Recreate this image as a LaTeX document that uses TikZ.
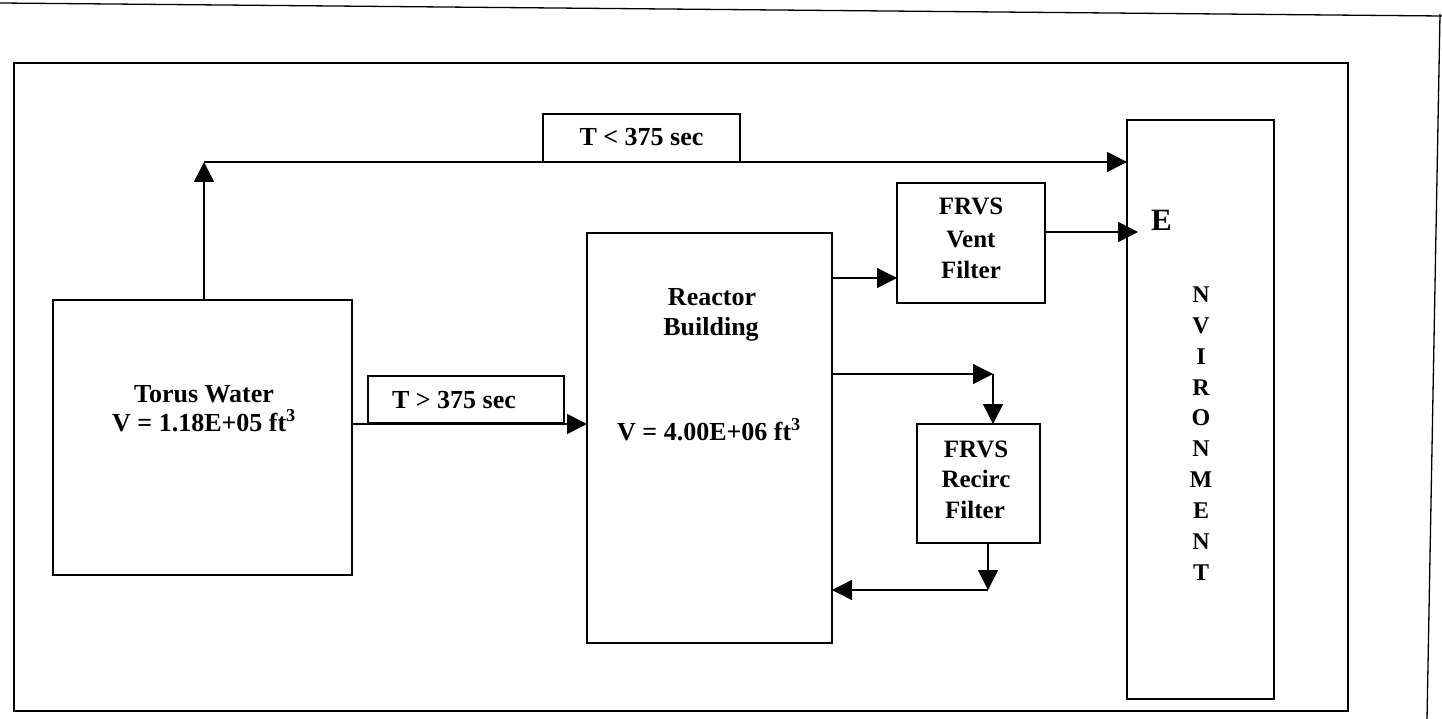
\documentclass[tikz,border=0pt]{standalone}
\usepackage{fontspec}
\setmainfont{Liberation Serif}
\usetikzlibrary{arrows.meta,calc}
\begin{document}
\begin{tikzpicture}[x=1pt,y=-1pt,
  box/.style={draw, line width=1.5pt, inner sep=0pt, outer sep=0pt},
  lbl/.style={anchor=base, inner sep=0pt, font=\bfseries\fontsize{26}{30}\selectfont},
  flbl/.style={anchor=base, inner sep=0pt, font=\bfseries\fontsize{25}{30}\selectfont},
  envl/.style={anchor=base, inner sep=0pt, font=\bfseries\fontsize{24}{30}\selectfont},
  arr/.style={line width=1.5pt, -{Triangle[length=20pt,width=20pt]}},
  edge/.style={line width=1.3pt}]
\useasboundingbox (0,0) rectangle (1442,719);
% page edges
\coordinate (p1) at (0,3);
\coordinate (p2) at (1442,16);
\coordinate (p3) at (1440,14);
\coordinate (p4) at (1427,719);
\draw[edge] (p1) -- (p2);
\draw[edge] (p3) -- (p4);
% frame
\node[box, minimum width=1334pt, minimum height=648pt] (frame) at (681,387) {};
% boxes
\node[box, minimum width=299pt, minimum height=275pt] (torus) at (202.5,437.5) {};
\node[box, minimum width=245pt, minimum height=410pt] (reactor) at (709.5,438) {};
\node[box, minimum width=148pt, minimum height=120pt] (vent) at (971,243) {};
\node[box, minimum width=123pt, minimum height=119pt] (recirc) at (978.5,483.5) {};
\node[box, minimum width=147pt, minimum height=579pt] (env) at (1200.5,409.5) {};
\node[box, minimum width=197pt, minimum height=48pt] (tlt) at (641.5,138) {};
\node[box, minimum width=196pt, minimum height=47pt] (tgt) at (466,399.5) {};
% texts
\node[lbl] (torus1) at (204,402) {Torus Water};
\node[lbl] (torus2) at (204,431) {V = 1.18E+05 ft\textsuperscript{3}};
\node[lbl] (reac1) at (712,305) {Reactor};
\node[lbl] (reac2) at (711,335) {Building};
\node[lbl] (reac3) at (709,440) {V = 4.00E+06 ft\textsuperscript{3}};
\node[lbl] (tlttext) at (641.5,146) {T < 375 sec};
\node[lbl] (tgttext) at (454,408) {T > 375 sec};
\node[flbl] (vent1) at (971,215) {FRVS};
\node[flbl] (vent2) at (971,247.5) {Vent};
\node[flbl] (vent3) at (971,278.5) {Filter};
\node[flbl] (rec1) at (976,457) {FRVS};
\node[flbl] (rec2) at (976,487.5) {Recirc};
\node[flbl] (rec3) at (975,518) {Filter};
\node[anchor=base, inner sep=0pt, font=\bfseries\fontsize{31}{34}\selectfont] (envE) at (1161.5,231) {E};
\foreach \l [count=\i] in {N,V,I,R,O,N,M,E,N,T}
  \node[envl] (envl\i) at (1201,{302.3+30.9*(\i-1)}) {\l};
% connectors
\coordinate (c0) at (204,162);
\draw[arr] (torus.north -| c0) -- (c0);
\draw[arr] (c0) -- (c0 -| env.west);
\draw[arr] (torus.east |- 0,424) -- (reactor.west |- 0,424);
\draw[arr] (reactor.east |- 0,278) -- (vent.west |- 0,278);
\draw[arr, shorten >=-11pt] (vent.east |- 0,232) -- (env.west |- 0,232);
\coordinate (c1) at (993,374);
\draw[arr] (reactor.east |- c1) -- (c1);
\draw[arr] (c1) -- (c1 |- recirc.north);
\coordinate (c2) at (988,590);
\draw[arr] (c2 |- recirc.south) -- (c2);
\draw[arr] (c2) -- (c2 -| reactor.east);
\end{tikzpicture}
\end{document}
